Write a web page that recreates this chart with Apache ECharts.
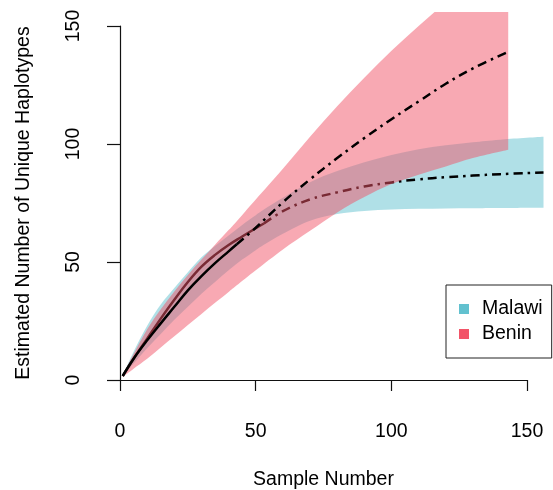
<!DOCTYPE html>
<html lang="en">
<head>
  <meta charset="UTF-8">
  <title>Haplotype rarefaction</title>
  <style>
    html, body { margin: 0; padding: 0; background: #fff; }
  </style>
</head>
<body>
  <div class="wrapper" style="width:553px;height:490px;"></div>

  <script src="https://cdn.jsdelivr.net/npm/echarts@6/dist/echarts.min.js"></script>
  <script>
    // Malawi: observed up to n = 53, extrapolated after that
    const malawiX    = [1, 5, 10, 15, 20, 25, 30, 35, 40, 45, 50, 53, 60, 70, 80, 90, 100, 110, 120, 130, 140, 156]
    const malawiMean = [1.7, 9, 17.5, 26, 34, 41.5, 48, 53, 57.2, 60.8, 64.3, 66.3, 71.5, 76.5, 79.5, 82, 83.7, 85, 85.9, 86.6, 87.2, 87.9]
    const malawiLo   = [1.5, 7, 13.5, 19.5, 25.5, 31, 36.5, 41.5, 46.5, 51, 55, 57.3, 62, 67.5, 70.3, 71.6, 72.2, 72.5, 72.7, 72.8, 72.9, 73]
    const malawiHi   = [2, 12, 23, 32, 39, 45.7, 52, 56.8, 61.2, 65.7, 69.8, 72.2, 77.2, 83.8, 88.5, 92.2, 95.3, 97.8, 99.4, 100.7, 101.8, 103]
    const malawiObs  = 53

    // Benin: observed up to n = 43
    const beninX    = [1, 5, 10, 15, 20, 25, 30, 35, 40, 43, 50, 60, 70, 80, 90, 100, 110, 120, 130, 143]
    const beninMean = [1.7, 9, 16.8, 24, 31, 38, 44, 49.5, 54.5, 57.5, 64.5, 75.3, 85, 94, 102.5, 110.5, 118, 125.5, 132, 139]
    const beninLo   = [1.3, 4.8, 9, 13.8, 18.5, 23.3, 28, 32.7, 37.3, 40.1, 46.5, 55.3, 63.2, 71, 77.5, 83, 87, 90.5, 94, 97.5]
    const beninHi   = [2, 11, 21.5, 30, 37.5, 44.5, 51, 57.3, 63.5, 67.3, 76.5, 89.5, 103, 116, 128, 139.5, 150, 160, 170, 182]
    const beninObs  = 43

    const xTicks = [0, 50, 100, 150]
    const yTicks = [0, 50, 100, 150]

    const FONT = 'Liberation Sans, Arial, sans-serif'
    const malawiCol = '#62c1cf'
    const beninCol = '#f25468'

    const pairs = (xs, ys) => xs.map((x, i) => [x, ys[i]])

    // catmull-rom through pixel points -> cubic bezier path commands
    function splinePath(pts, first) {
      let d = (first ? 'M' : 'L') + pts[0][0] + ',' + pts[0][1]
      for (let i = 0; i < pts.length - 1; i++) {
        const p0 = pts[Math.max(i - 1, 0)], p1 = pts[i], p2 = pts[i + 1]
        const p3 = pts[Math.min(i + 2, pts.length - 1)]
        const c1 = [p1[0] + (p2[0] - p0[0]) / 6, p1[1] + (p2[1] - p0[1]) / 6]
        const c2 = [p2[0] - (p3[0] - p1[0]) / 6, p2[1] - (p3[1] - p1[1]) / 6]
        d += 'C' + c1.join(',') + ' ' + c2.join(',') + ' ' + p2.join(',')
      }
      return d
    }

    function bandSeries(name, xs, lo, hi, color, z) {
      return {
        type: 'custom', name: name, z: z, silent: true, clip: true,
        itemStyle: { color: color },
        data: xs.map((x, i) => [x, lo[i], hi[i]]),
        renderItem: function (params, api) {
          if (params.dataIndex !== 0) return null
          const up = xs.map((x, i) => api.coord([x, hi[i]]))
          const dn = xs.map((x, i) => api.coord([x, lo[i]])).reverse()
          return {
            type: 'path',
            shape: { pathData: splinePath(up, true) + splinePath(dn, false) + 'Z' },
            style: { fill: color, opacity: 0.5 }
          }
        }
      }
    }

    function meanSeries(xs, ys, obs, z) {
      const all = pairs(xs, ys)
      const style = { color: '#000', width: 2.5 }
      return [{
        type: 'line', data: all.filter(p => p[0] <= obs),
        smooth: 0.4, showSymbol: false, silent: true, z: z,
        lineStyle: style
      }, {
        type: 'line', data: all.filter(p => p[0] >= obs),
        smooth: 0.4, showSymbol: false, silent: true, z: z,
        lineStyle: Object.assign({ type: [9, 5, 2.5, 5], cap: 'butt' }, style)
      }]
    }

    const axisStyle = { color: '#111', width: 1.2 }

    const chart = echarts.init(document.querySelector('.wrapper'))
    const option = {
      animation: false,
      textStyle: { fontFamily: FONT },
      grid: [
        // plotting region
        { left: 107, top: 12, width: 446, height: 382, outerBoundsMode: 'none' },
        // region spanned by the tick range, used only for the R-style axes
        { left: 120, top: 26, width: 407, height: 354, outerBoundsMode: 'none' }
      ],
      xAxis: [
        { type: 'value', gridIndex: 0, min: -4.8, max: 159.5, show: false },
        {
          type: 'value', gridIndex: 1, min: xTicks[0], max: xTicks[xTicks.length - 1],
          interval: 50, offset: 14,
          axisLine: { show: true, lineStyle: axisStyle },
          axisTick: { show: true, length: 11, lineStyle: axisStyle },
          axisLabel: { color: '#000', fontSize: 19.5, margin: 28, fontFamily: FONT },
          splitLine: { show: false },
          name: 'Sample Number', nameLocation: 'middle', nameGap: 76,
          nameTextStyle: { color: '#000', fontSize: 19.5, fontFamily: FONT }
        }
      ],
      yAxis: [
        { type: 'value', gridIndex: 0, min: -5.93, max: 155.9, show: false },
        {
          type: 'value', gridIndex: 1, min: yTicks[0], max: yTicks[yTicks.length - 1],
          interval: 50, offset: 13,
          axisLine: { show: true, lineStyle: axisStyle },
          axisTick: { show: true, length: 13, lineStyle: axisStyle },
          axisLabel: { color: '#000', fontSize: 19.5, margin: 23, rotate: 90, fontFamily: FONT },
          splitLine: { show: false },
          name: 'Estimated Number of Unique Haplotypes', nameLocation: 'middle', nameGap: 73,
          nameTextStyle: { color: '#000', fontSize: 19.5, fontFamily: FONT }
        }
      ],
      legend: {
        orient: 'vertical', left: 446, top: 285,
        padding: [13, 9, 13, 13], itemGap: 3,
        itemWidth: 10, itemHeight: 10, icon: 'rect',
        borderColor: '#222', borderWidth: 1,
        formatter: '{a|{name}}',
        textStyle: {
          color: '#000', fontSize: 19.5, fontFamily: FONT, lineHeight: 22,
          rich: { a: { fontSize: 19.5, fontFamily: FONT, padding: [0, 0, 0, 8] } }
        },
        data: [
          { name: 'Malawi', itemStyle: { color: malawiCol, opacity: 1 } },
          { name: 'Benin', itemStyle: { color: beninCol, opacity: 1 } }
        ]
      },
      series: [
        bandSeries('Malawi', malawiX, malawiLo, malawiHi, malawiCol, 2),
        ...meanSeries(malawiX, malawiMean, malawiObs, 3),
        bandSeries('Benin', beninX, beninLo, beninHi, beninCol, 4),
        ...meanSeries(beninX, beninMean, beninObs, 5)
      ]
    }
    chart.setOption(option)
  </script>
</body>
</html>
